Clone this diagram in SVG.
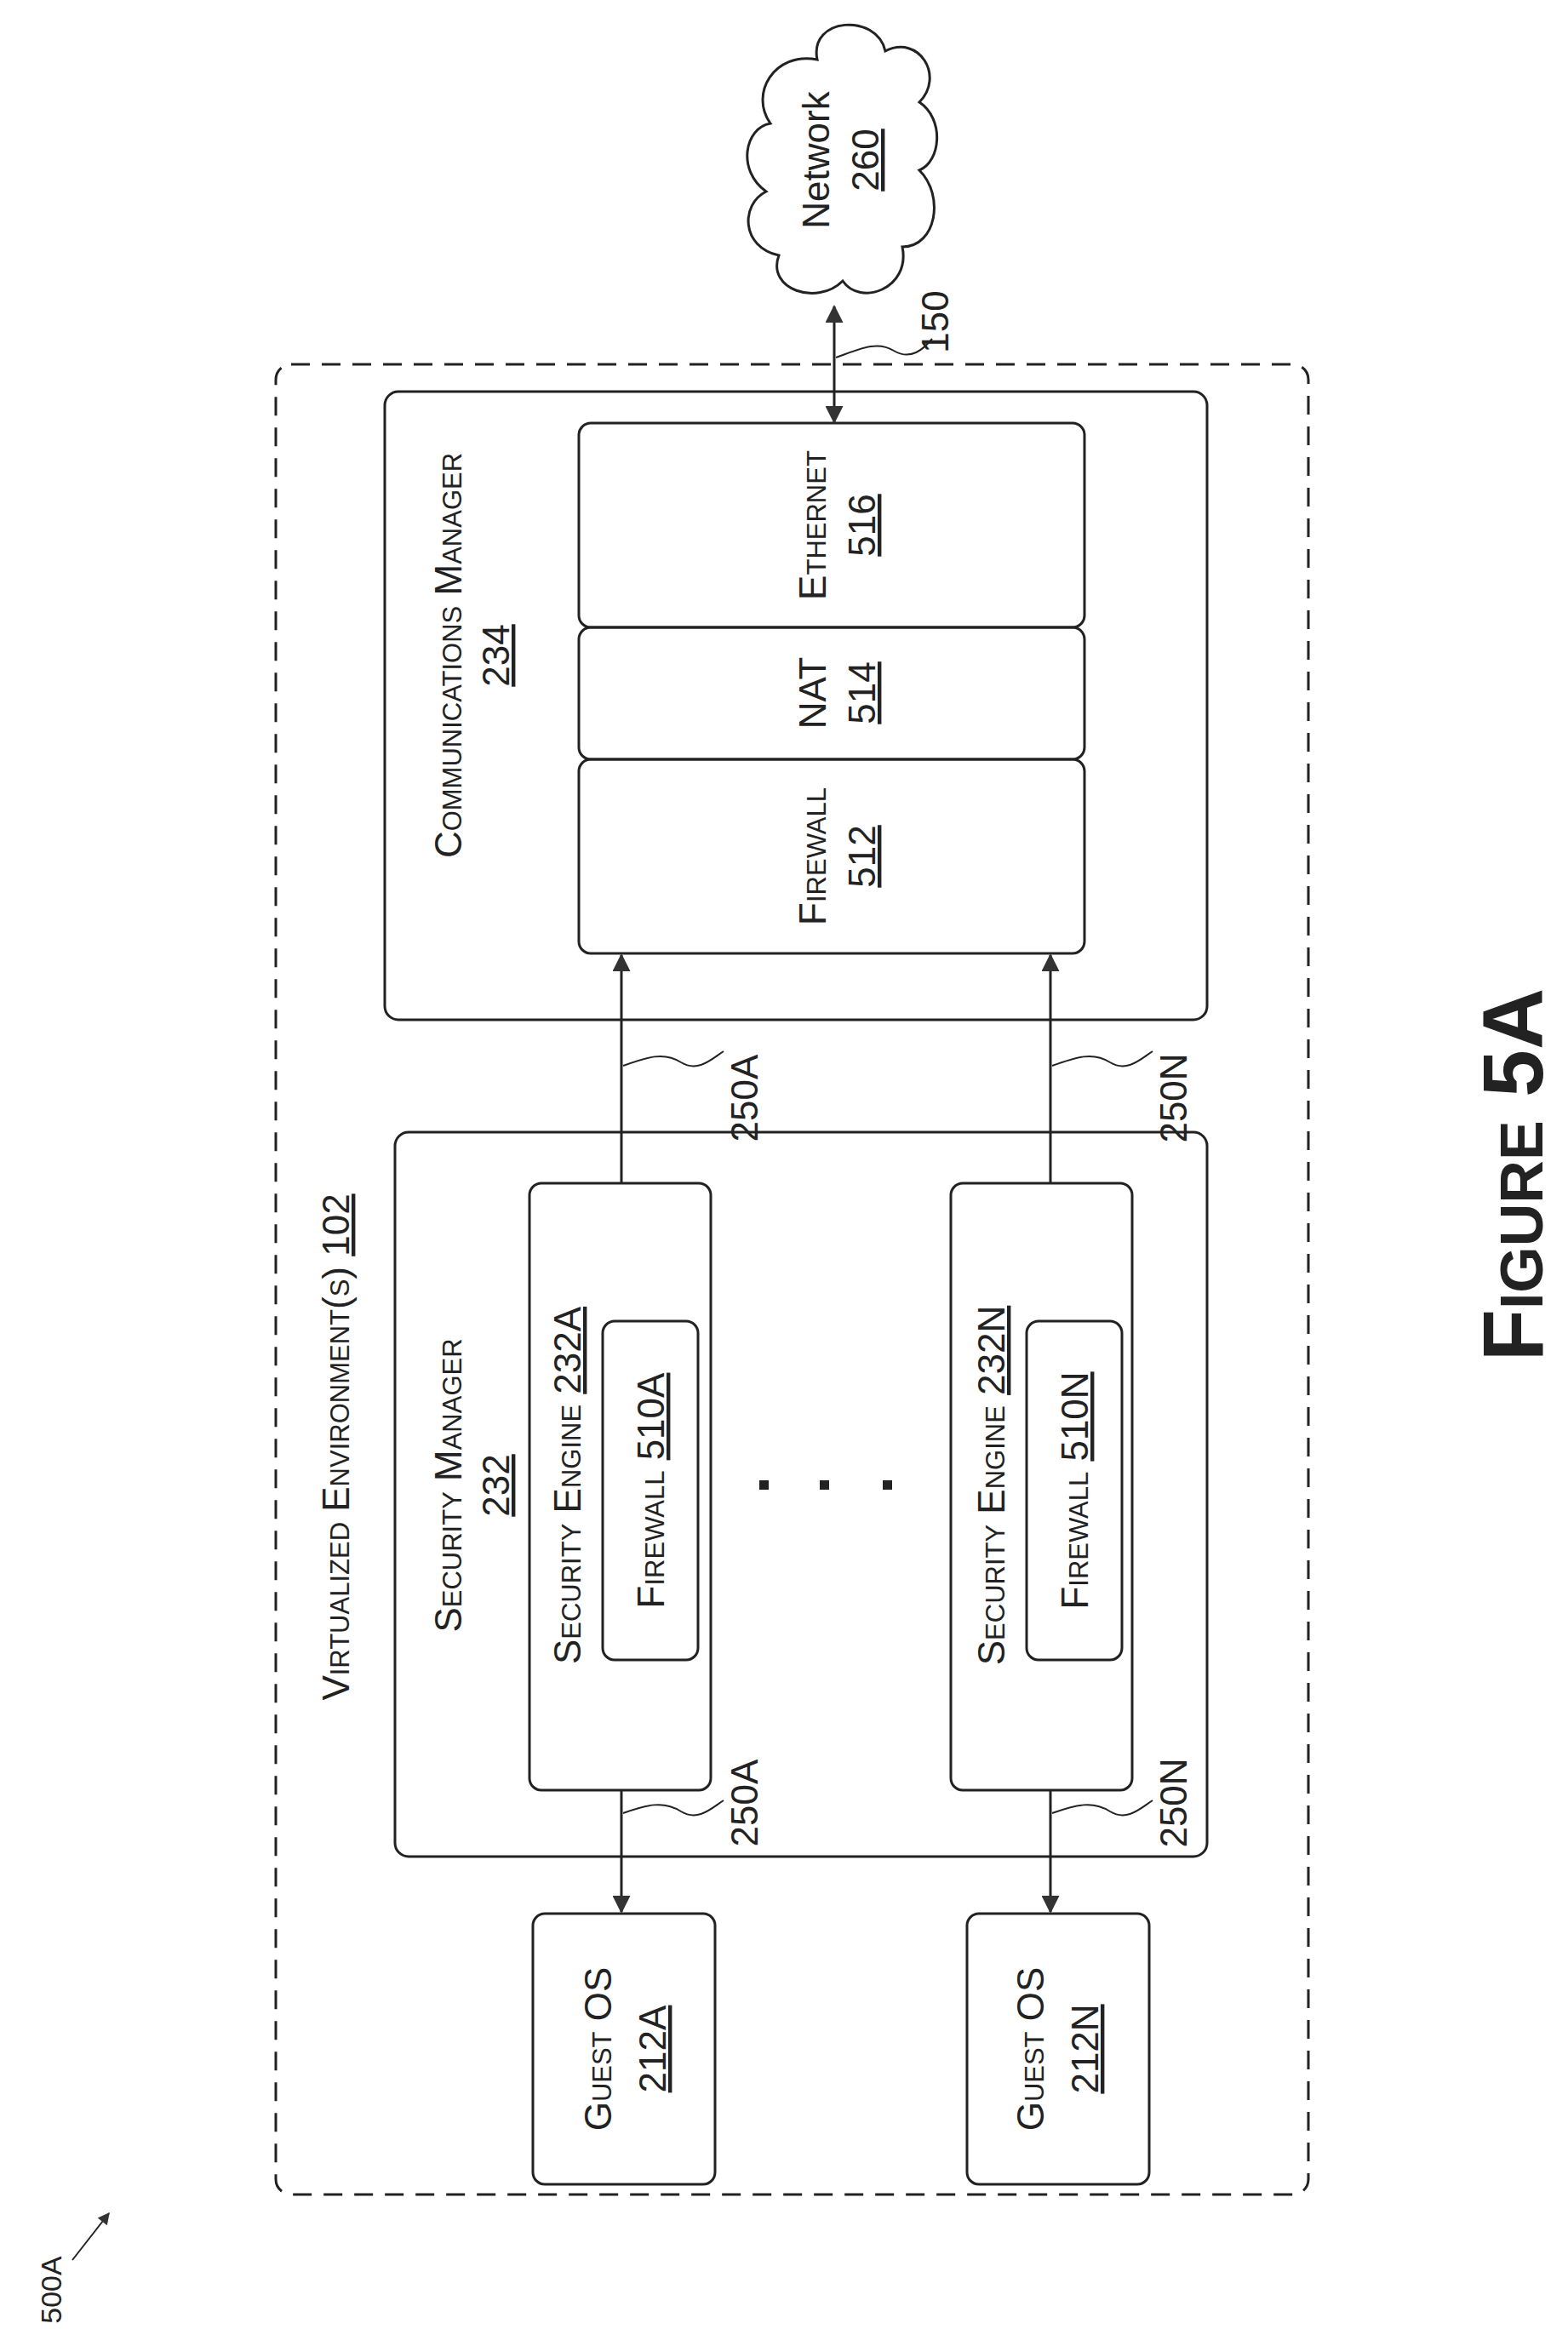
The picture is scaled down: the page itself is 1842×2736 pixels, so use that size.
<svg xmlns="http://www.w3.org/2000/svg" width="1842" height="2736" viewBox="0 0 1842 2736">
<style>
.b{fill:none;stroke:#222;stroke-width:3}
.t{font-family:"Liberation Sans",Arial,sans-serif;font-size:44px;fill:#222;text-anchor:middle}
.sc{font-variant:small-caps}
.u{text-decoration:underline}
.l{fill:none;stroke:#222;stroke-width:3}
.w{fill:none;stroke:#222;stroke-width:2}
</style>
<defs>
<marker id="ah" viewBox="0 0 10 10" refX="9" refY="5" markerWidth="9" markerHeight="7" orient="auto-start-reverse" markerUnits="strokeWidth">
<path d="M0,0 L10,5 L0,10 z" fill="#333"/>
</marker>
</defs>
<rect width="1842" height="2736" fill="#fff"/>
<g id="env">
<rect x="324" y="428" width="1213" height="2150" rx="18" class="b" stroke-dasharray="22,14"/>
<text class="t sc" transform="translate(410,1700) rotate(-90)">Virtualized Environment(s)  <tspan class="u">102</tspan></text>
</g>
<g id="network">
<path class="b" d="M960,70 C950,20 1030,15 1040,60 C1080,40 1110,90 1080,120 C1110,140 1105,190 1080,200 C1110,230 1100,290 1060,290 C1070,340 1010,360 990,330 C960,360 900,340 915,300 C870,290 870,240 900,225 C865,200 875,150 905,145 C880,110 910,60 960,70 Z"/>
<text class="t" transform="translate(974,188) rotate(-90)">Network</text>
<text class="t u" transform="translate(1032,188) rotate(-90)">260</text>
</g>
<g id="commmgr">
<rect x="452" y="460" width="966" height="738" rx="16" class="b"/>
<text class="t sc" transform="translate(542,770) rotate(-90)">Communications Manager</text>
<text class="t u" transform="translate(598,770) rotate(-90)">234</text>
</g>
<g id="ethernet">
<rect x="680" y="497" width="594" height="240" rx="14" class="b"/>
<text class="t sc" transform="translate(970,617) rotate(-90)">Ethernet</text>
<text class="t u" transform="translate(1028,617) rotate(-90)">516</text>
</g>
<g id="nat">
<rect x="680" y="737" width="594" height="155" rx="14" class="b"/>
<text class="t" transform="translate(970,814) rotate(-90)">NAT</text>
<text class="t u" transform="translate(1028,814) rotate(-90)">514</text>
</g>
<g id="firewall512">
<rect x="680" y="892" width="594" height="228" rx="14" class="b"/>
<text class="t sc" transform="translate(970,1006) rotate(-90)">Firewall</text>
<text class="t u" transform="translate(1028,1006) rotate(-90)">512</text>
</g>
<g id="secmgr">
<rect x="464" y="1330" width="954" height="851" rx="16" class="b"/>
<text class="t sc" transform="translate(542,1745) rotate(-90)">Security Manager</text>
<text class="t u" transform="translate(598,1745) rotate(-90)">232</text>
</g>
<g id="se232a">
<rect x="622" y="1390" width="213" height="713" rx="14" class="b"/>
<text class="t sc" transform="translate(682,1745) rotate(-90)">Security Engine <tspan class="u">232A</tspan></text>
</g>
<g id="fw510a">
<rect x="708" y="1552" width="112" height="398" rx="14" class="b"/>
<text class="t sc" transform="translate(780,1751) rotate(-90)">Firewall <tspan class="u">510A</tspan></text>
</g>
<g id="se232n">
<rect x="1117" y="1390" width="213" height="713" rx="14" class="b"/>
<text class="t sc" transform="translate(1180,1745) rotate(-90)">Security Engine <tspan class="u">232N</tspan></text>
</g>
<g id="fw510n">
<rect x="1206" y="1552" width="112" height="398" rx="14" class="b"/>
<text class="t sc" transform="translate(1278,1751) rotate(-90)">Firewall <tspan class="u">510N</tspan></text>
</g>
<g id="dots" fill="#222">
<rect x="892" y="1739" width="11" height="11"/>
<rect x="963" y="1739" width="11" height="11"/>
<rect x="1037" y="1739" width="11" height="11"/>
</g>
<g id="guest212a">
<rect x="626" y="2248" width="214" height="318" rx="14" class="b"/>
<text class="t sc" transform="translate(718,2407) rotate(-90)">Guest OS</text>
<text class="t u" transform="translate(782,2407) rotate(-90)">212A</text>
</g>
<g id="guest212n">
<rect x="1136" y="2248" width="214" height="318" rx="14" class="b"/>
<text class="t sc" transform="translate(1226,2407) rotate(-90)">Guest OS</text>
<text class="t u" transform="translate(1290,2407) rotate(-90)">212N</text>
</g>
<g id="connectors">
<line class="l" x1="980" y1="360" x2="980" y2="496" marker-start="url(#ah)" marker-end="url(#ah)"/>
<path class="w" d="M982,420 C1010,410 1030,400 1050,412 C1070,424 1085,410 1095,398"/>
<line class="l" x1="730" y1="1390" x2="730" y2="1122" marker-end="url(#ah)"/>
<path class="w" d="M732,1252 C760,1242 780,1235 800,1248 C820,1260 835,1245 850,1235"/>
<line class="l" x1="1234" y1="1390" x2="1234" y2="1122" marker-end="url(#ah)"/>
<path class="w" d="M1236,1252 C1264,1242 1284,1235 1304,1248 C1324,1260 1339,1245 1354,1235"/>
<line class="l" x1="730" y1="2103" x2="730" y2="2246" marker-end="url(#ah)"/>
<path class="w" d="M732,2130 C760,2120 780,2115 800,2128 C820,2140 835,2125 850,2115"/>
<line class="l" x1="1234" y1="2103" x2="1234" y2="2246" marker-end="url(#ah)"/>
<path class="w" d="M1236,2130 C1264,2120 1284,2115 1304,2128 C1324,2140 1339,2125 1354,2115"/>
<line class="w" x1="85" y1="2655" x2="128" y2="2600" marker-end="url(#ah)"/>
</g>
<g id="labels">
<text class="t" transform="translate(1114,378) rotate(-90)">150</text>
<text class="t" transform="translate(890,1290) rotate(-90)">250A</text>
<text class="t" transform="translate(1394,1290) rotate(-90)">250N</text>
<text class="t" transform="translate(890,2118) rotate(-90)">250A</text>
<text class="t" transform="translate(1394,2118) rotate(-90)">250N</text>
<text class="t" transform="translate(72,2690) rotate(-90)" style="font-size:34px">500A</text>
<text class="t" transform="translate(1812,1380) rotate(-90)" style="font-size:100px;font-weight:bold;font-variant:small-caps">Figure 5A</text>
</g>
</svg>
